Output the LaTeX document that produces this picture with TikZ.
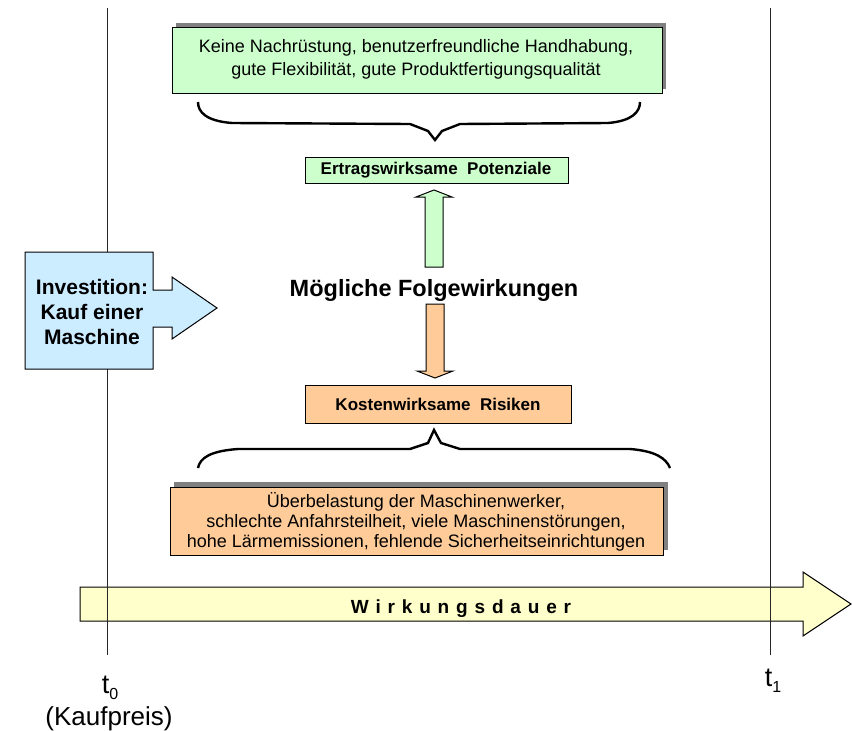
\documentclass[tikz,border=0pt]{standalone}
\usepackage{fontspec}
\setmainfont{Liberation Sans}
\definecolor{gfill}{HTML}{CCFFCC}
\definecolor{ofill}{HTML}{FFCC99}
\definecolor{bfill}{HTML}{CCECFF}
\definecolor{yfill}{HTML}{FFFFCC}
\definecolor{shade}{HTML}{808080}
\tikzset{
  boxline/.style={draw=black, line width=1pt},
  shadowbox/.style={fill=shade, draw=none},
  bracestyle/.style={draw=black, line width=2.4pt, line join=miter},
  txt/.style={inner sep=0pt, align=center},
  vline/.style={draw=black!85, line width=1pt}
}
\newcommand\lowsub[1]{\raisebox{-6pt}{\fontsize{16}{16}\selectfont #1}}
\begin{document}
\begin{tikzpicture}[x=1pt,y=-1pt]
\useasboundingbox (0,0) rectangle (852,731);
\fill[white] (0,0) rectangle (852,731);

% Wirkungsdauer arrow
\path[boxline, fill=yfill] (80,587) -- (803,587) -- (803,572) -- (851,604) -- (803,636) -- (803,621) -- (80,621) -- cycle;
\node[txt, font=\fontsize{19}{22}\selectfont\bfseries\addfontfeature{LetterSpace=36}] (wd) at (461,609) {Wirkungsdauer};

% time lines
\coordinate (t0top) at (107,8);
\coordinate (t0bot) at (107,655);
\coordinate (t1top) at (770,8);
\coordinate (t1bot) at (770,655);
\draw[vline] (t0top) -- (t0bot);
\draw[vline] (t1top) -- (t1bot);

% investment arrow
\path[boxline, fill=bfill] (25,252) -- (153,252) -- (153,290) -- (172,290) -- (172,277) -- (217,308) -- (172,339) -- (172,327) -- (153,327) -- (153,369) -- (25,369) -- cycle;
\node[txt, font=\fontsize{21}{25}\selectfont\bfseries] (inv) at (92,312) {Investition:\\Kauf einer\\Maschine};

% top box
\fill[shadowbox] (176,23) rectangle (666,89);
\path[boxline, fill=gfill] (172,27) rectangle (662,93);
\node[txt, font=\fontsize{18}{23}\selectfont] (pot) at (416,59) {Keine Nachrüstung, benutzerfreundliche Handhabung,\\gute Flexibilität, gute Produktfertigungsqualität};

% top brace
\draw[bracestyle] (198,102) .. controls (198,112) and (206,121) .. (232,123) -- (410,124) -- (428,131) -- (435,140) -- (442,131) -- (460,124) -- (608,123) .. controls (632,121) and (640,112) .. (640,102);

% Ertragswirksame
\path[boxline, fill=gfill] (305,157) rectangle (568,183);
\node[txt, font=\fontsize{17}{20}\selectfont\bfseries] (ertrag) at (436,170) {Ertragswirksame\ \ Potenziale};

% up arrow
\path[boxline, fill=gfill] (425,267) -- (425,197) -- (416,197) -- (434,190) -- (452,197) -- (443,197) -- (443,267) -- cycle;

% middle label
\node[txt, font=\fontsize{23.5}{27}\selectfont\bfseries] (folge) at (434,290) {Mögliche Folgewirkungen};

% down arrow
\path[boxline, fill=ofill] (426,304) -- (444,304) -- (444,371) -- (453,371) -- (435,378) -- (417,371) -- (426,371) -- cycle;

% Kostenwirksame
\path[boxline, fill=ofill] (305,385) rectangle (571,423);
\node[txt, font=\fontsize{17}{20}\selectfont\bfseries] (kosten) at (438,404) {Kostenwirksame\ \ Risiken};

% bottom brace
\draw[bracestyle] (198,468) .. controls (200,458) and (210,451) .. (238,449) -- (410,449) -- (428,443) -- (434,430) -- (441,443) -- (460,449) -- (630,449) .. controls (655,451) and (666,458) .. (670,468);

% bottom box
\fill[shadowbox] (174,482) rectangle (668,550);
\path[boxline, fill=ofill] (170,487) rectangle (663,555);
\node[txt, font=\fontsize{18}{20}\selectfont] (risk) at (416,522) {Überbelastung der Maschinenwerker,\\schlechte Anfahrsteilheit, viele Maschinenstörungen,\\hohe Lärmemissionen, fehlende Sicherheitseinrichtungen};

% time labels
\node[txt, font=\fontsize{27}{30}\selectfont, anchor=base] (t0) at (110,693) {t\lowsub{0}};
\node[txt, font=\fontsize{26}{30}\selectfont, anchor=base] (kp) at (109,725) {(Kaufpreis)};
\node[txt, font=\fontsize{27}{30}\selectfont, anchor=base] (t1) at (773,686) {t\lowsub{1}};
\end{tikzpicture}
\end{document}
